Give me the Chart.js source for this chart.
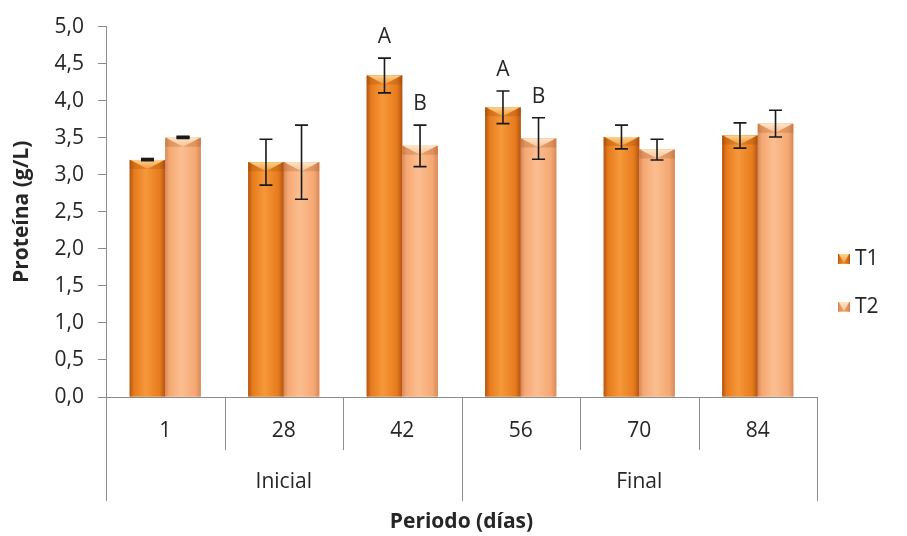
<!DOCTYPE html>
<html>
<head>
<meta charset="utf-8">
<script src="https://cdn.jsdelivr.net/npm/chart.js@4.4.1/dist/chart.umd.min.js"></script>
<style>
  html, body { margin: 0; padding: 0; background: #ffffff; }
  #wrap { width: 907px; height: 536px; position: relative; }
</style>
</head>
<body>
<div id="wrap"><canvas id="c" width="907" height="536"></canvas></div>
<script>
// ---- data ----
const categories = ['1', '28', '42', '56', '70', '84'];
const groupLabels = ['Inicial', 'Final'];
const groupSizes = [3, 3];
const seriesNames = ['T1', 'T2'];
const t1Values = [3.20, 3.17, 4.34, 3.91, 3.51, 3.53];
const t1Errors = [0.01, 0.31, 0.235, 0.22, 0.16, 0.17];
const t2Values = [3.50, 3.17, 3.39, 3.49, 3.34, 3.69];
const t2Errors = [0.01, 0.50, 0.28, 0.28, 0.14, 0.18];
const t1Letters = ['', '', 'A', 'A', '', ''];
const t2Letters = ['', '', 'B', 'B', '', ''];
const yTicks = [0, 0.5, 1, 1.5, 2, 2.5, 3, 3.5, 4, 4.5, 5];

const FONT = '"Open Sans", Lato, sans-serif';
const FS = 21;
const TXT = '#262626';
const AXIS = '#8c8c8c';

const shades = [
  { edge: '#b35415', mid: '#e67b1c', light: '#f6983a', top: '#fcd48e' },
  { edge: '#d9895a', mid: '#f5a873', light: '#fbbe90', top: '#fde6c8' }
];

function drawBarShape(ctx, l, t, w, h, s) {
  const r = l + w;
  const g = ctx.createLinearGradient(l, 0, r, 0);
  g.addColorStop(0, s.edge);
  g.addColorStop(0.12, s.mid);
  g.addColorStop(0.45, s.light);
  g.addColorStop(0.85, s.mid);
  g.addColorStop(1, s.edge);
  ctx.fillStyle = g;
  ctx.fillRect(l, t, w, h);
  const bh = Math.min(9, h);
  const gt = ctx.createLinearGradient(0, t, 0, t + bh);
  gt.addColorStop(0, s.top);
  gt.addColorStop(1, s.light);
  ctx.fillStyle = gt;
  ctx.beginPath();
  ctx.moveTo(l + 1, t);
  ctx.lineTo(r - 1, t);
  ctx.lineTo(l + w / 2, t + bh);
  ctx.closePath();
  ctx.fill();
  ctx.fillStyle = 'rgba(120,50,0,0.18)';
  ctx.beginPath();
  ctx.moveTo(l, t);
  ctx.lineTo(l + w / 2, t + bh);
  ctx.lineTo(l, t + bh);
  ctx.closePath();
  ctx.fill();
  ctx.beginPath();
  ctx.moveTo(r, t);
  ctx.lineTo(l + w / 2, t + bh);
  ctx.lineTo(r, t + bh);
  ctx.closePath();
  ctx.fill();
}

const decor = {
  id: 'decor',
  afterDatasetsDraw(chart) {
    const ctx = chart.ctx;
    const ys = chart.scales.y;
    const errs = [t1Errors, t2Errors];
    const vals = [t1Values, t2Values];
    const letters = [t1Letters, t2Letters];
    ctx.save();
    chart.data.datasets.forEach((ds, di) => {
      const meta = chart.getDatasetMeta(di);
      meta.data.forEach((bar) => {
        const p = bar.getProps(['x', 'y', 'base', 'width'], true);
        drawBarShape(ctx, p.x - p.width / 2, p.y, p.width, p.base - p.y, shades[di]);
      });
    });
    chart.data.datasets.forEach((ds, di) => {
      const meta = chart.getDatasetMeta(di);
      meta.data.forEach((bar, i) => {
        const bx = bar.x;
        const v = vals[di][i], e = errs[di][i];
        const yt = ys.getPixelForValue(v + e);
        const yb = ys.getPixelForValue(v - e);
        ctx.strokeStyle = '#1a1a1a';
        ctx.lineWidth = 1.6;
        ctx.beginPath();
        ctx.moveTo(bx, yt); ctx.lineTo(bx, yb);
        ctx.moveTo(bx - 6.5, yt); ctx.lineTo(bx + 6.5, yt);
        ctx.moveTo(bx - 6.5, yb); ctx.lineTo(bx + 6.5, yb);
        ctx.stroke();
        if (e < 0.03) {
          ctx.lineWidth = 3;
          ctx.beginPath();
          ctx.moveTo(bx - 6.5, yt); ctx.lineTo(bx + 6.5, yt);
          ctx.stroke();
        }
        const L = letters[di][i];
        if (L) {
          ctx.fillStyle = TXT;
          ctx.font = FS + 'px ' + FONT;
          ctx.textAlign = 'center';
          ctx.textBaseline = 'middle';
          ctx.fillText(L, bx, yt - 21);
        }
      });
    });
    ctx.restore();
  },
  afterDraw(chart) {
    const ctx = chart.ctx;
    const area = chart.chartArea;
    const n = categories.length;
    const cw = (area.right - area.left) / n;
    ctx.save();
    ctx.strokeStyle = AXIS;
    ctx.lineWidth = 1;
    for (let i = 1; i < n; i++) {
      const xx = Math.round(area.left + i * cw) + 0.5;
      ctx.beginPath();
      ctx.moveTo(xx, area.bottom);
      ctx.lineTo(xx, area.bottom + 53);
      ctx.stroke();
    }
    let idx = 0;
    const bounds = [0];
    groupSizes.forEach(s => { idx += s; bounds.push(idx); });
    bounds.forEach(b => {
      const xx = Math.round(area.left + b * cw) + 0.5;
      ctx.beginPath();
      ctx.moveTo(xx, area.bottom);
      ctx.lineTo(xx, area.bottom + 104);
      ctx.stroke();
    });
    ctx.fillStyle = TXT;
    ctx.font = FS + 'px ' + FONT;
    ctx.textAlign = 'center';
    ctx.textBaseline = 'middle';
    groupLabels.forEach((g, k) => {
      const cx = area.left + (bounds[k] + bounds[k + 1]) / 2 * cw;
      ctx.fillText(g, cx, area.bottom + 85);
    });
    const legY = [259, 307];
    seriesNames.forEach((nm, k) => {
      drawBarShape(ctx, 838, legY[k] - 5, 12, 10, shades[k]);
      ctx.fillStyle = TXT;
      ctx.font = FS + 'px ' + FONT;
      ctx.textAlign = 'left';
      ctx.textBaseline = 'middle';
      ctx.fillText(nm, 855, legY[k]);
    });
    ctx.restore();
  }
};

new Chart(document.getElementById('c'), {
  type: 'bar',
  data: {
    labels: categories,
    datasets: [
      { label: seriesNames[0], data: t1Values, backgroundColor: shades[0].mid, borderWidth: 0 },
      { label: seriesNames[1], data: t2Values, backgroundColor: shades[1].mid, borderWidth: 0 }
    ]
  },
  options: {
    responsive: false,
    animation: false,
    devicePixelRatio: 1,
    layout: { padding: { top: 24, right: 90, bottom: 0, left: 0 } },
    plugins: { legend: { display: false }, tooltip: { enabled: false } },
    datasets: { bar: { categoryPercentage: 0.6, barPercentage: 1.0 } },
    scales: {
      x: {
        grid: { display: false, drawTicks: false },
        border: { display: true, color: AXIS, width: 1 },
        ticks: { color: TXT, font: { family: FONT, size: FS }, padding: 21, maxRotation: 0 },
        title: {
          display: true, text: 'Periodo (días)', color: TXT,
          font: { family: FONT, size: FS, weight: 'bold' },
          padding: { top: 0, bottom: 1 }
        },
        afterFit(s) { s.height = 139; }
      },
      y: {
        min: 0, max: 5,
        afterBuildTicks(s) { s.ticks = yTicks.map(v => ({ value: v })); },
        grid: { display: true, drawOnChartArea: false, drawTicks: true, tickLength: 8, color: AXIS },
        border: { display: true, color: AXIS, width: 1 },
        ticks: {
          color: TXT, font: { family: FONT, size: FS }, padding: 14,
          callback: v => v.toFixed(1).replace('.', ',')
        },
        title: {
          display: true, text: 'Proteína (g/L)', color: TXT,
          font: { family: FONT, size: FS, weight: 'bold' },
          padding: { top: 9, bottom: 0 }
        },
        afterFit(s) { s.width = 106; }
      }
    }
  },
  plugins: [decor]
});
</script>
</body>
</html>
